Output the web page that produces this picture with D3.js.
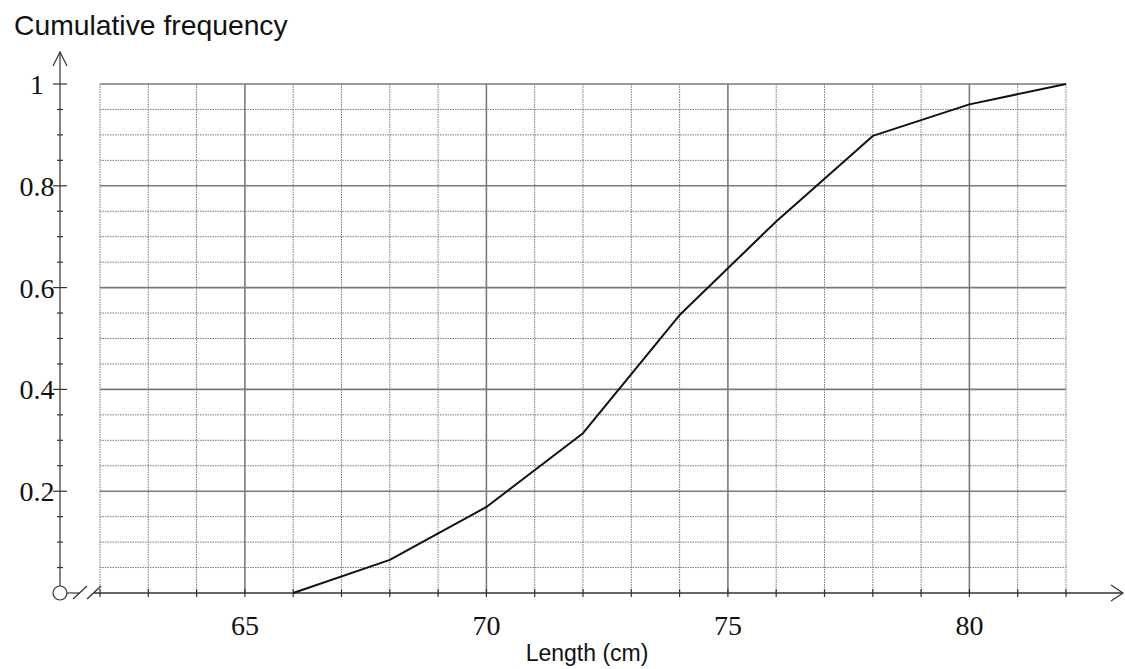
<!DOCTYPE html>
<html>
<head>
<meta charset="utf-8">
<script src="https://cdn.jsdelivr.net/npm/d3@7"></script>
<style>
html,body{margin:0;padding:0;background:#fff;}
svg{display:block;}
</style>
</head>
<body>
<svg id="chart" width="1125" height="669"></svg>
<script>
// Data
const lengths = [66, 68, 70, 72, 74, 76, 78, 80, 82];
const cumFreq = [0, 0.065, 0.169, 0.314, 0.546, 0.73, 0.898, 0.96, 1];
const xTickLabels = [65, 70, 75, 80];
const yTickLabels = [0.2, 0.4, 0.6, 0.8, 1];
const xTitle = "Length (cm)";
const yTitle = "Cumulative frequency";

const svg = d3.select("#chart");
const x = d3.scaleLinear().domain([62, 82]).range([100, 1066]);
const y = d3.scaleLinear().domain([0, 1]).range([593, 84]);

const gridColor = "#7a7a7a";
const g = svg.append("g");

// Vertical grid lines
const xs = d3.range(62, 83, 1);
xs.forEach(v => {
  const major = v % 5 === 0;
  g.append("line")
    .attr("x1", x(v)).attr("x2", x(v))
    .attr("y1", y(0)).attr("y2", y(1))
    .attr("stroke", gridColor)
    .attr("stroke-width", major ? 1.6 : 1)
    .attr("stroke-dasharray", major ? null : "1.5,1");
});
// Horizontal grid lines
const ys = d3.range(0, 21, 1).map(i => i / 20);
ys.forEach((v, i) => {
  if (i === 0) return;
  const major = i % 4 === 0 || i === 20;
  g.append("line")
    .attr("x1", x(62)).attr("x2", x(82))
    .attr("y1", y(v)).attr("y2", y(v))
    .attr("stroke", gridColor)
    .attr("stroke-width", major ? 1.6 : 1)
    .attr("stroke-dasharray", major ? null : "1.5,1");
});

const axisColor = "#333";
// X axis line
svg.append("line").attr("x1", 94).attr("x2", 1123).attr("y1", y(0)).attr("y2", y(0))
  .attr("stroke", axisColor).attr("stroke-width", 1.4);
// arrowhead x
svg.append("path").attr("d", `M1111,${y(0)-8} L1123,${y(0)} L1111,${y(0)+8}`)
  .attr("fill", "none").attr("stroke", axisColor).attr("stroke-width", 1.2);
// x ticks
xs.forEach(v => {
  svg.append("line").attr("x1", x(v)).attr("x2", x(v))
    .attr("y1", y(0) - 4).attr("y2", y(0) + 4)
    .attr("stroke", axisColor).attr("stroke-width", 1.2);
});
// x tick labels
svg.selectAll(".xl").data(xTickLabels).enter().append("text")
  .attr("x", d => x(d)).attr("y", 635)
  .attr("text-anchor", "middle")
  .attr("font-family", "'Liberation Serif', 'Times New Roman', serif")
  .attr("font-size", 28).attr("fill", "#111")
  .text(d => d);

// Y axis
const ax = 60;
svg.append("line").attr("x1", ax).attr("x2", ax).attr("y1", y(0) - 7).attr("y2", 52)
  .attr("stroke", axisColor).attr("stroke-width", 1.2);
svg.append("path").attr("d", `M${ax-7},66 L${ax},52 L${ax+7},66`)
  .attr("fill", "none").attr("stroke", axisColor).attr("stroke-width", 1.2);
ys.forEach((v, i) => {
  if (i === 0) return;
  const major = i % 4 === 0 || i === 20;
  const L = major ? 7 : 3;
  svg.append("line").attr("x1", ax - L).attr("x2", ax + L)
    .attr("y1", y(v)).attr("y2", y(v))
    .attr("stroke", axisColor).attr("stroke-width", 1.2);
});
svg.selectAll(".yl").data(yTickLabels).enter().append("text")
  .attr("x", 37).attr("y", d => y(d) + 10)
  .attr("text-anchor", "middle")
  .attr("font-family", "'Liberation Serif', 'Times New Roman', serif")
  .attr("font-size", 28).attr("fill", "#111")
  .text(d => d === 1 ? "1" : d3.format(".1f")(d));

// Origin circle and break
svg.append("circle").attr("cx", ax).attr("cy", y(0)).attr("r", 7)
  .attr("fill", "none").attr("stroke", axisColor).attr("stroke-width", 1.2);
svg.append("line").attr("x1", ax + 7).attr("x2", 80).attr("y1", y(0)).attr("y2", y(0))
  .attr("stroke", axisColor).attr("stroke-width", 1.2);
[[73, 87], [87, 101]].forEach(([a, b]) => {
  svg.append("line").attr("x1", a).attr("y1", y(0) + 6).attr("x2", b).attr("y2", y(0) - 7)
    .attr("stroke", axisColor).attr("stroke-width", 1.3);
});

// Curve
const pts = lengths.map((l, i) => [l, cumFreq[i]]);
svg.append("path")
  .attr("d", d3.line().x(d => x(d[0])).y(d => y(d[1]))(pts))
  .attr("fill", "none").attr("stroke", "#111").attr("stroke-width", 2)
  .attr("stroke-linejoin", "round");

// Titles
svg.append("text").attr("x", 14).attr("y", 35)
  .attr("font-family", "'Liberation Sans', Arial, sans-serif")
  .attr("font-size", 28.3).attr("fill", "#111").text(yTitle);
svg.append("text").attr("x", 587).attr("y", 661)
  .attr("text-anchor", "middle")
  .attr("font-family", "'Liberation Sans', Arial, sans-serif")
  .attr("font-size", 23).attr("fill", "#111").text(xTitle);
</script>
</body>
</html>
